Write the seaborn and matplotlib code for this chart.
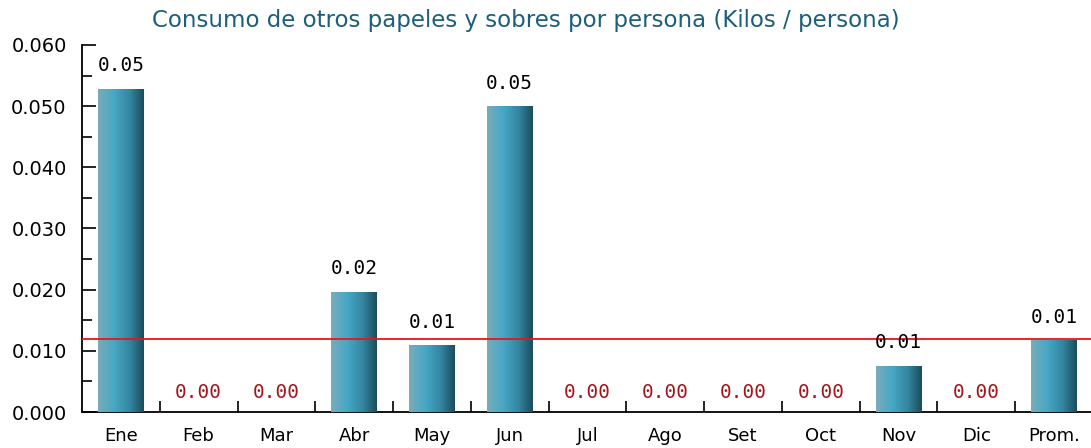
import numpy as np
import pandas as pd
import matplotlib
matplotlib.use("Agg")
import matplotlib.pyplot as plt
from matplotlib.colors import LinearSegmentedColormap
from matplotlib.ticker import MultipleLocator
import seaborn as sns

# Datos del gráfico
meses = ['Ene', 'Feb', 'Mar', 'Abr', 'May', 'Jun', 'Jul', 'Ago', 'Set', 'Oct', 'Nov', 'Dic', 'Prom.']
consumo = [0.0528, 0.0, 0.0, 0.0196, 0.0108, 0.0499, 0.0, 0.0, 0.0, 0.0, 0.0075, 0.0, 0.0117]
etiquetas = ['0.05', '0.00', '0.00', '0.02', '0.01', '0.05', '0.00', '0.00', '0.00', '0.00', '0.01', '0.00', '0.01']
promedio = 0.0119
titulo = 'Consumo de otros papeles y sobres por persona (Kilos / persona)'

df = pd.DataFrame({'mes': meses, 'consumo': consumo})

sns.set_style('white')
plt.rcParams['font.family'] = ['DejaVu Sans']

fig = plt.figure(figsize=(10.91, 4.48), dpi=100)
ax = fig.add_axes([82 / 1091, 36 / 448, 1011 / 1091, 367 / 448])

sns.barplot(x='mes', y='consumo', data=df, hue='mes', palette=['#45a7c4'] * len(meses),
            legend=False, width=0.59, ax=ax, zorder=2)

# Degradado horizontal en cada barra
cmap = LinearSegmentedColormap.from_list('barra', [(0, '#78acbb'), (0.35, '#46a8c4'),
                                                   (0.7, '#3385a0'), (1, '#1b4e5c')])
grad = np.linspace(0, 1, 64).reshape(1, -1)
for p in ax.patches:
    h = p.get_height()
    if h <= 0:
        continue
    x0 = p.get_x()
    ax.imshow(grad, cmap=cmap, aspect='auto', extent=[x0, x0 + p.get_width(), 0, h],
              zorder=3, interpolation='bilinear')

# Línea del promedio
ax.axhline(promedio, color='#e8141b', linewidth=1.3, zorder=4)

# Etiquetas de valores
for i, (v, t) in enumerate(zip(consumo, etiquetas)):
    if v > 0:
        ax.annotate(t, (i, v), xytext=(0, 10), textcoords='offset points', ha='center',
                    va='bottom', fontsize=14, family='DejaVu Sans Mono', color='black', zorder=5)
    else:
        ax.annotate(t, (i, 0), xytext=(0, 7), textcoords='offset points', ha='center',
                    va='bottom', fontsize=14, family='DejaVu Sans Mono', color='#a3141b', zorder=5)

ax.set_xlim(-0.5, len(meses) - 0.5)
ax.set_ylim(0, 0.060)
ax.yaxis.set_minor_locator(MultipleLocator(0.005))
ax.set_yticks(np.arange(0, 0.0601, 0.01))
ax.set_yticklabels([f'{v:.3f}' for v in np.arange(0, 0.0601, 0.01)])
ax.tick_params(axis='y', which='major', direction='in', length=10, width=1.2, labelsize=14,
               left=True, pad=11, colors='black')
ax.tick_params(axis='y', which='minor', direction='in', length=7, width=1.2, left=True,
               colors='black')

# Marcas del eje x entre categorías
ax.set_xticks(np.arange(len(meses)))
ax.set_xticklabels(meses)
ax.set_xticks(np.arange(0.5, len(meses) - 0.5, 1), minor=True)
ax.tick_params(axis='x', which='major', length=0, labelsize=13, pad=11, colors='black')
ax.tick_params(axis='x', which='minor', direction='in', length=8, width=1.2, bottom=True,
               colors='black')

for s in ['top', 'right']:
    ax.spines[s].set_visible(False)
for s in ['left', 'bottom']:
    ax.spines[s].set_color('black')
    ax.spines[s].set_linewidth(1.3)

ax.set_xlabel('')
ax.set_ylabel('')
fig.text(526 / 1091, 1 - 20 / 448, titulo, ha='center', va='center', fontsize=16.5, color='#1d5f7b')

fig.savefig('out.png', dpi=100)
